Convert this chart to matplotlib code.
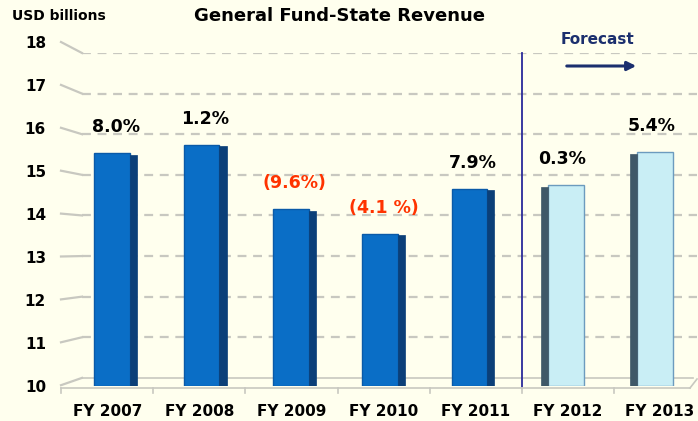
import matplotlib
matplotlib.use("Agg")
import matplotlib.pyplot as plt

categories = ["FY 2007", "FY 2008", "FY 2009", "FY 2010", "FY 2011", "FY 2012", "FY 2013"]
revenue = [15.54, 15.74, 14.15, 13.55, 14.66, 14.75, 15.56]
growth_labels = ["8.0%", "1.2%", "(9.6%)", "(4.1 %)", "7.9%", "0.3%", "5.4%"]
is_forecast = [False, False, False, False, False, True, True]
y_ticks = [10, 11, 12, 13, 14, 15, 16, 17, 18]

BG = "#FFFFEE"
BLUE = "#0A6EC6"
BLUE_SIDE = "#0B3F78"
LIGHT = "#C9EEF5"
LIGHT_EDGE = "#6C9BBE"
LIGHT_SIDE = "#3F5868"
GRID = "#C8C8C0"
NAVY = "#1B2F6E"
RED = "#FF3300"

fig = plt.figure(figsize=(6.98, 4.21), dpi=100, facecolor=BG)
W, H = 698, 421
ax_left, ax_right, ax_top, ax_bot = 82, 697, 53, 386
ax = fig.add_axes([ax_left / W, 1 - ax_bot / H, (ax_right - ax_left) / W, (ax_bot - ax_top) / H])
ax.set_facecolor(BG)
ymin, ymax = 9.8, 18.0
xmin, xmax = -0.38, 6.51
ax.set_ylim(ymin, ymax)
ax.set_xlim(xmin, xmax)
for s in ax.spines.values():
    s.set_visible(False)
ax.set_xticks([])
ax.set_yticks([])

# dashed back-wall gridlines
for v in y_ticks[1:]:
    ax.plot([xmin, xmax], [v, v], color=GRID, lw=1.6, ls=(0, (4, 3)), zorder=1)

# floor back line
ax.plot([xmin, xmax - 0.05], [10, 10], color=GRID, lw=1.2, zorder=1)

# perspective stubs to the left and tick labels (front plane)
unit_back = (ax_bot - ax_top) / (ymax - ymin)
for v in y_ticks:
    y_back_px = ax_top + (ymax - v) * unit_back
    y_front_px = 44 + (18 - v) * 42.9
    fig.add_artist(plt.Line2D([61 / W, ax_left / W], [1 - (y_front_px - 2) / H, 1 - y_back_px / H],
                              color=GRID, lw=1.6, transform=fig.transFigure))
    fig.text(46 / W, 1 - y_front_px / H, str(v), ha="right", va="center",
             fontsize=11, fontweight="bold", color="black")

# floor front line and ticks
fig.add_artist(plt.Line2D([61 / W, 690 / W], [1 - 388 / H, 1 - 388 / H], color=GRID, lw=1.2,
                          transform=fig.transFigure))
fig.add_artist(plt.Line2D([690 / W, 697 / W], [1 - 388 / H, 1 - 379 / H], color=GRID, lw=1.2,
                          transform=fig.transFigure))
for i in range(len(categories)):
    xt = 61 + 92.2 * i
    fig.add_artist(plt.Line2D([xt / W, xt / W], [1 - 388 / H, 1 - 393 / H], color=GRID, lw=1.2,
                              transform=fig.transFigure))

# bars
face_w = 0.40
side_w = 0.08
for i, (val, fc) in enumerate(zip(revenue, is_forecast)):
    total = face_w + side_w
    left = i - total / 2
    if fc:
        side_x = left
        face_x = left + side_w
        col, side_col, edge = LIGHT, LIGHT_SIDE, LIGHT_EDGE
    else:
        face_x = left
        side_x = left + face_w
        col, side_col, edge = BLUE, BLUE_SIDE, "#0A5AA8"
    ax.bar(face_x, val - ymin, bottom=ymin, width=face_w, align="edge",
           color=col, edgecolor=edge, lw=1.0, zorder=3)
    ax.bar(side_x, val - ymin - 0.04, bottom=ymin, width=side_w, align="edge",
           color=side_col, edgecolor=side_col, lw=0.5, zorder=3)
    lab_col = RED if growth_labels[i].startswith("(") else "black"
    ax.text(i, val + 0.42, growth_labels[i], ha="center", va="bottom",
            fontsize=12.5, fontweight="bold", color=lab_col, zorder=4)

# category labels (front plane)
for i, c in enumerate(categories):
    fig.text((107.5 + 92.0 * i) / W, 1 - 411 / H, c, ha="center", va="center",
             fontsize=11, fontweight="bold", color="black")

# forecast divider
ax.plot([4.55, 4.55], [ymin - 0.05, ymax], color="#2A2A9A", lw=1.3, zorder=2, clip_on=False)
fig.text(597 / W, 1 - 40 / H, "Forecast", ha="center", va="center",
         fontsize=11, fontweight="bold", color=NAVY)
ax.annotate("", xy=(639 / W, 1 - 66 / H), xytext=(564 / W, 1 - 66 / H),
            xycoords="figure fraction", textcoords="figure fraction",
            arrowprops=dict(arrowstyle="-|>", color=NAVY, lw=2.2, mutation_scale=13))

fig.text(339 / W, 1 - 16 / H, "General Fund-State Revenue", ha="center", va="center",
         fontsize=13, fontweight="bold", color="black")
fig.text(12 / W, 1 - 16 / H, "USD billions", ha="left", va="center",
         fontsize=10, fontweight="bold", color="black")

fig.savefig("out.png", dpi=100, facecolor=BG)
